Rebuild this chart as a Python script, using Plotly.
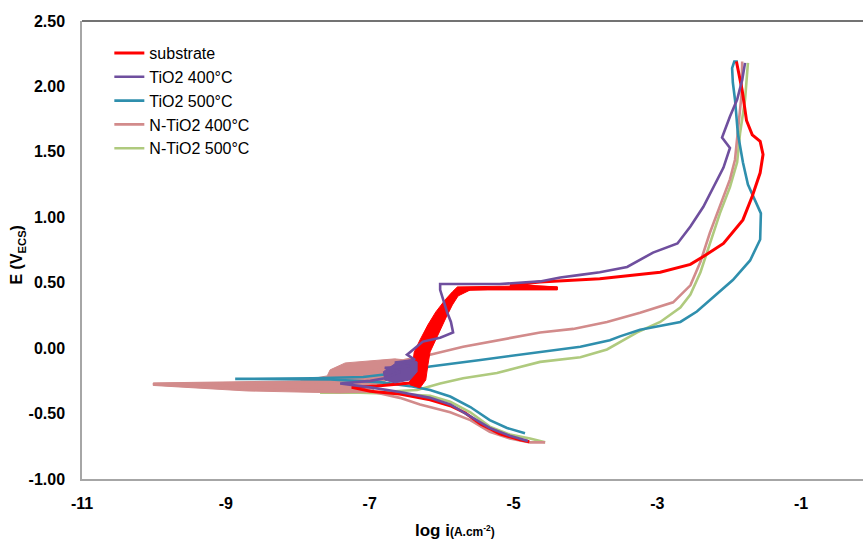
import plotly.graph_objects as go

# ---- data (log i in A.cm-2, E in V vs ECS) ----
sub_logi = [-4.78, -4.91, -5.19, -5.46, -5.67, -5.88, -6.16, -6.58, -6.99, -7.25,
            -6.90, -6.44, -6.30, -6.30, -6.10, -5.95, -5.78,
            -5.60, -5.19, -4.77, -4.39, -5.05, -4.63, -3.80, -2.96, -2.54, -2.36,
            -2.08, -1.81, -1.68, -1.57, -1.53, -1.57, -1.68, -1.76, -1.82, -1.88, -1.90]
sub_E = [-0.715, -0.70, -0.655, -0.58, -0.495, -0.44, -0.395, -0.35, -0.33, -0.30,
         -0.29, -0.266, -0.15, -0.03, 0.12, 0.30, 0.437,
         0.45, 0.46, 0.46, 0.46, 0.483, 0.506, 0.53, 0.58, 0.64, 0.70,
         0.80, 0.98, 1.16, 1.34, 1.48, 1.58, 1.63, 1.74, 1.97, 2.13, 2.19]
# noisy envelope of the substrate curve near the passive step
sub_band_logi = [-6.44, -6.41, -6.38, -6.30, -6.19, -6.08, -5.95, -5.85, -5.78, -4.77, -4.39,
                 -4.39, -5.60, -5.77, -5.85, -5.94, -6.02, -6.10, -6.16, -6.19, -6.22, -6.30]
sub_band_E = [-0.28, -0.166, -0.029, 0.063, 0.178, 0.277, 0.369, 0.43, 0.468, 0.476, 0.468,
              0.445, 0.445, 0.399, 0.33, 0.231, 0.139, 0.048, -0.029, -0.128, -0.243, -0.304]

t400_logi = [-4.80, -5.05, -5.33, -5.60, -5.88, -6.16, -6.58, -6.99, -7.41,
             -6.99, -6.79, -6.58, -6.79, -6.44, -6.65, -6.37, -6.48,
             -6.26, -6.02, -5.84, -5.87, -5.92, -5.97, -6.02, -6.02,
             -5.74, -5.19, -4.63, -4.35, -4.07, -3.80, -3.42, -3.06,
             -2.72, -2.54, -2.36, -2.22, -2.08,
             -1.99, -2.10, -1.99, -1.89, -1.82, -1.78]
t400_E = [-0.71, -0.67, -0.61, -0.52, -0.43, -0.38, -0.335, -0.30, -0.27,
          -0.25, -0.23, -0.18, -0.15, -0.14, -0.11, -0.09, -0.05,
          0.05, 0.08, 0.12, 0.20, 0.27, 0.35, 0.445, 0.49,
          0.49, 0.49, 0.51, 0.54, 0.56, 0.58, 0.62, 0.73,
          0.80, 0.93, 1.08, 1.23, 1.38,
          1.53, 1.61, 1.77, 1.90, 2.05, 2.18]
t400_band_logi = [-6.81, -6.65, -6.44, -6.34, -6.34, -6.44, -6.65, -6.79]
t400_band_E = [-0.18, -0.12, -0.09, -0.105, -0.18, -0.243, -0.266, -0.243]

t500_logi = [-4.84, -5.09, -5.33, -5.60, -5.88, -6.16, -6.44, -6.86, -7.55, -8.87,
             -7.79, -7.09, -6.62, -6.16, -5.46, -4.77, -4.07, -3.66, -3.52, -3.24,
             -2.68, -2.45, -2.22, -1.95, -1.71, -1.57, -1.56, -1.64, -1.74, -1.81,
             -1.88, -1.92, -1.95, -1.96, -1.93, -1.88]
t500_E = [-0.65, -0.61, -0.55, -0.45, -0.37, -0.32, -0.29, -0.26, -0.24, -0.235,
          -0.23, -0.22, -0.19, -0.14, -0.09, -0.04, 0.01, 0.06, 0.09, 0.14,
          0.20, 0.28, 0.39, 0.52, 0.67, 0.83, 1.03, 1.13, 1.25, 1.42,
          1.64, 1.90, 2.03, 2.14, 2.19, 2.19]

n400_logi = [-4.56, -4.77, -5.05, -5.33, -5.60, -5.88, -6.30, -6.58, -6.99, -7.41,
             -8.71, -10.01, -7.55, -7.13, -6.65, -6.51,
             -6.16, -5.70, -5.19, -4.63, -4.17, -3.70,
             -3.24, -2.78, -2.54, -2.40, -2.27, -2.13, -1.99, -1.92, -1.88, -1.83,
             -1.82]
n400_E = [-0.72, -0.72, -0.69, -0.64, -0.55, -0.49, -0.43, -0.38, -0.33, -0.327,
          -0.31, -0.275, -0.26, -0.20, -0.13, -0.09,
          -0.05, 0.01, 0.06, 0.12, 0.147, 0.20,
          0.27, 0.35, 0.48, 0.66, 0.88, 1.08, 1.29, 1.44, 1.67, 1.93,
          2.19]
n400_band_logi = [-8.71, -10.01, -10.01, -8.66, -7.97, -7.59, -7.55, -7.34, -6.99, -6.65,
                  -6.51, -6.58, -6.65, -6.86, -6.99, -7.41]
n400_band_E = [-0.327, -0.285, -0.266, -0.258, -0.25, -0.212, -0.166, -0.113, -0.097, -0.082,
               -0.09, -0.136, -0.204, -0.28, -0.334, -0.342]

n500_logi = [-4.56, -4.77, -5.05, -5.33, -5.60, -5.88, -6.16, -6.58, -7.13, -7.69,
             -6.86, -6.34, -6.02, -5.70, -5.23, -4.95, -4.63, -4.07, -3.70, -3.28,
             -2.96, -2.68, -2.54, -2.40, -2.27, -2.13, -1.99, -1.89, -1.85, -1.78,
             -1.74]
n500_E = [-0.72, -0.69, -0.66, -0.60, -0.49, -0.41, -0.365, -0.35, -0.34, -0.34,
          -0.335, -0.32, -0.27, -0.23, -0.19, -0.15, -0.105, -0.07, -0.01, 0.12,
          0.20, 0.31, 0.41, 0.58, 0.80, 1.03, 1.23, 1.42, 1.64, 1.90,
          2.18]

names = ["substrate", "TiO2 400°C", "TiO2 500°C", "N-TiO2 400°C", "N-TiO2 500°C"]
x_ticks = [-11, -9, -7, -5, -3, -1]
x_ticklabels = ["-11", "-9", "-7", "-5", "-3", "-1"]
y_ticks = [-1.0, -0.5, 0.0, 0.5, 1.0, 1.5, 2.0, 2.5]
y_ticklabels = ["-1.00", "-0.50", "0.00", "0.50", "1.00", "1.50", "2.00", "2.50"]

colors = ["#FF0000", "#6F4F9E", "#2F8FAD", "#D28B8B", "#AFCA7E"]
xs = [sub_logi, t400_logi, t500_logi, n400_logi, n500_logi]
ys = [sub_E, t400_E, t500_E, n400_E, n500_E]
bands = {0: (sub_band_logi, sub_band_E), 1: (t400_band_logi, t400_band_E),
         3: (n400_band_logi, n400_band_E)}
widths = [3, 2.6, 2.6, 2.6, 2.6]

FONT = "Liberation Sans, Arial, sans-serif"

fig = go.Figure()
draw_order = [4, 3, 2, 0, 1]
for i in draw_order:
    if i in bands:
        bx, by = bands[i]
        fig.add_trace(go.Scatter(x=bx + bx[:1], y=by + by[:1], mode="lines",
                                 fill="toself", fillcolor=colors[i],
                                 line=dict(color=colors[i], width=1),
                                 showlegend=False, hoverinfo="skip"))
    fig.add_trace(go.Scatter(x=xs[i], y=ys[i], mode="lines", name=names[i],
                             legendrank=i + 1,
                             line=dict(color=colors[i], width=widths[i])))

fig.update_layout(
    width=863, height=541,
    margin=dict(l=82, r=0, t=21, b=62),
    plot_bgcolor="white", paper_bgcolor="white",
    showlegend=True,
    legend=dict(x=0.035, y=0.967, xanchor="left", yanchor="top",
                bgcolor="rgba(0,0,0,0)", tracegroupgap=0,
                font=dict(family=FONT, size=16, color="black")),
    xaxis=dict(range=[-11, -0.14], tickvals=x_ticks, ticktext=x_ticklabels,
               showline=True, linecolor="#A6A6A6", linewidth=1.5,
               showgrid=False, zeroline=False, ticks="",
               ticklabelstandoff=9,
               tickfont=dict(family=FONT, size=16, color="black", weight="bold")),
    yaxis=dict(range=[-1, 2.5], tickvals=y_ticks, ticktext=y_ticklabels,
               showline=True, linecolor="#A6A6A6", linewidth=1.5,
               showgrid=False, zeroline=False, ticks="",
               ticklabelstandoff=12,
               tickfont=dict(family=FONT, size=16, color="black", weight="bold")),
    shapes=[dict(type="line", xref="paper", yref="paper", x0=0, x1=1, y0=1, y1=1,
                 line=dict(color="#444444", width=1.5))],
    annotations=[
        dict(text="E (V<sub>ECS</sub>)", xref="paper", yref="paper",
             x=-0.082, y=0.49, textangle=-90, showarrow=False,
             xanchor="center", yanchor="middle",
             font=dict(family=FONT, size=16, color="black", weight="bold")),
        dict(text="log i<span style='font-size:12px'>(A.cm<sup>-2</sup>)</span>",
             xref="paper", yref="paper", x=0.478, y=-0.112, showarrow=False,
             xanchor="center", yanchor="middle",
             font=dict(family=FONT, size=17, color="black", weight="bold")),
    ],
)

fig.write_html("out.html")
